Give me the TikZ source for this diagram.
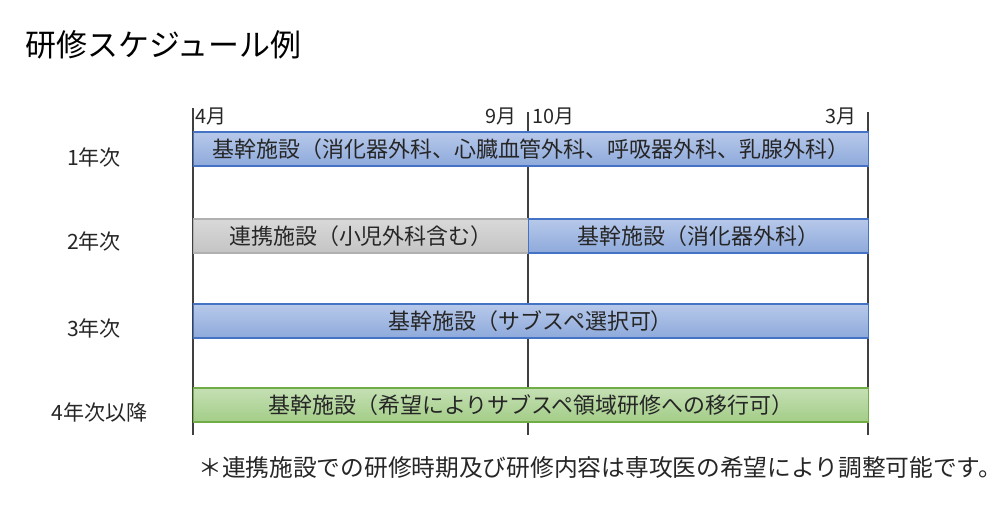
\documentclass[tikz,border=0pt]{standalone}
\usepackage{fontspec}
\usepackage{xcolor}
\setmainfont{Noto Sans CJK JP}
\usetikzlibrary{positioning}

\definecolor{blueTop}{HTML}{B7C9EA}
\definecolor{blueBot}{HTML}{8EA9DB}
\definecolor{blueLine}{HTML}{4472C4}
\definecolor{grayTop}{HTML}{D9D9D9}
\definecolor{grayBot}{HTML}{C4C4C4}
\definecolor{grayLine}{HTML}{B0B0B0}
\definecolor{greenTop}{HTML}{C5E0B4}
\definecolor{greenBot}{HTML}{A3CD87}
\definecolor{greenLine}{HTML}{70AD47}
\definecolor{txt}{HTML}{262626}

\tikzset{
    bar/.style={draw, line width=0.6pt, anchor=west, minimum height=0.68cm,
        inner sep=0pt, text=txt, font=\fontsize{12.5pt}{14pt}\selectfont},
    barblue/.style={bar, draw=blueLine, top color=blueTop, bottom color=blueBot},
    bargray/.style={bar, draw=grayLine, top color=grayTop, bottom color=grayBot},
    bargreen/.style={bar, draw=greenLine, top color=greenTop, bottom color=greenBot},
    month/.style={inner sep=0pt, text=txt, font=\fontsize{11.3pt}{13pt}\selectfont},
    yearlbl/.style={inner sep=0pt, text=txt, font=\fontsize{12pt}{14pt}\selectfont},
    grid/.style={draw=black!75, line width=0.6pt}
}

\begin{document}
\begin{tikzpicture}[x=0.02cm, y=-0.02cm]
    \useasboundingbox (0,0) rectangle (1000,520);

    % Title
    \node[anchor=west, inner sep=0pt, font=\fontsize{17.6pt}{20pt}\selectfont] (title) at (25,45) {研修スケジュール例};

    % Month lines
    \coordinate (aprTop) at (193,108);
    \coordinate (aprBot) at (193,435);
    \coordinate (octTop) at (528,112);
    \coordinate (octBot) at (528,435);
    \coordinate (marTop) at (868,112);
    \coordinate (marBot) at (868,435);
    \draw[grid] (aprTop) -- (aprBot);
    \draw[grid] (octTop) -- (octBot);
    \draw[grid] (marTop) -- (marBot);

    % Months
    \node[month, anchor=base west] (apr) at (195,124) {4月};
    \node[month, anchor=base east] (sep) at (517,124) {9月};
    \node[month, anchor=base west] (oct) at (532,124) {10月};
    \node[month, anchor=base east] (mar) at (857,124) {3月};

    % Years
    \node[yearlbl] (y1) at (94,157) {1年次};
    \node[yearlbl] (y2) at (94,241) {2年次};
    \node[yearlbl] (y3) at (94,328) {3年次};
    \node[yearlbl] (y4) at (100,412) {4年次以降};

    % Bars
    \node[barblue, minimum width=13.5cm] (b1) at (193,149) {基幹施設（消化器外科、心臓血管外科、呼吸器外科、乳腺外科）};
    \node[bargray, minimum width=6.7cm] (b2a) at (193,236) {連携施設（小児外科含む）};
    \node[barblue, minimum width=6.8cm] (b2b) at (528,236) {基幹施設（消化器外科）};
    \node[barblue, minimum width=13.5cm] (b3) at (193,321) {基幹施設（サブスペ選択可）};
    \node[bargreen, minimum width=13.5cm] (b4) at (193,405) {基幹施設（希望によりサブスペ領域研修への移行可）};

    % Note
    \node[anchor=west, inner sep=0pt, text=txt, font=\fontsize{13.5pt}{15pt}\selectfont] (note) at (198,468) {＊連携施設での研修時期及び研修内容は専攻医の希望により調整可能です。};
\end{tikzpicture}
\end{document}
